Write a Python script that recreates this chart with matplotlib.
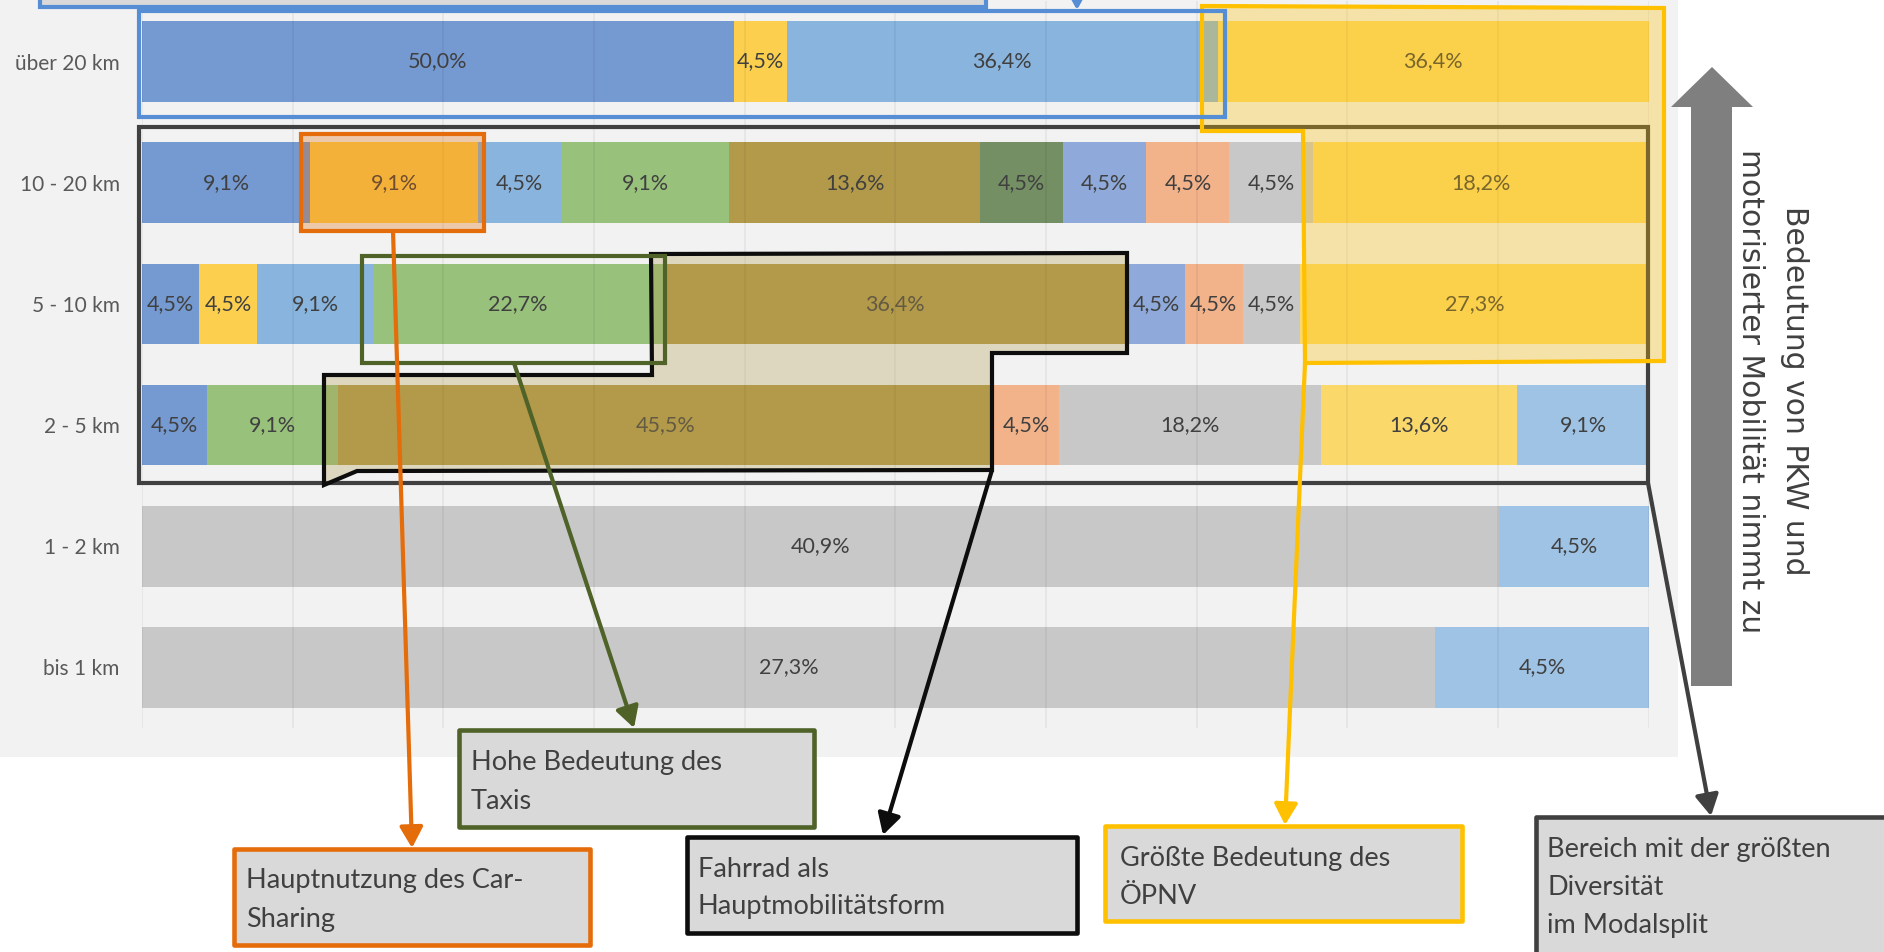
import numpy as np
import matplotlib
matplotlib.use('Agg')
import matplotlib.pyplot as plt
from matplotlib.patches import Rectangle, Polygon

# ---------------- data ----------------
categories = ['bis 1 km', '1 - 2 km', '2 - 5 km', '5 - 10 km', '10 - 20 km', 'über 20 km']
s1_blue = [0, 0, 4.5, 4.5, 9.1, 50.0]
s2_yellow = [0, 0, 0, 4.5, 9.1, 4.5]
s3_lightblue = [0, 0, 0, 9.1, 4.5, 36.4]
s4_green = [0, 0, 9.1, 22.7, 9.1, 0]
s5_olive = [0, 0, 45.5, 36.4, 13.6, 0]
s6_darkgreen = [0, 0, 0, 0, 4.5, 0]
s7_periwinkle = [0, 0, 0, 4.5, 4.5, 0]
s8_salmon = [0, 0, 4.5, 4.5, 4.5, 0]
s9_gray = [27.3, 40.9, 18.2, 4.5, 4.5, 0]
s10_oepnv = [0, 0, 13.6, 27.3, 18.2, 36.4]
s11_lightblue2 = [4.5, 4.5, 9.1, 0, 0, 0]

series = [s1_blue, s2_yellow, s3_lightblue, s4_green, s5_olive, s6_darkgreen,
          s7_periwinkle, s8_salmon, s9_gray, s10_oepnv, s11_lightblue2]
colors = ['#7599D1', '#FCD04E', '#88B4DE', '#98C17B', '#B39A4A', '#748F63',
          '#8FAADA', '#F2B28A', '#C8C8C8', '#FAD86A', '#9FC3E4']

W, H = 1884, 952
fig = plt.figure(figsize=(W / 100, H / 100), dpi=100)
fig.patch.set_facecolor('white')

# background panel
bg = fig.add_axes([0, 0, 1, 1])
bg.set_xlim(0, W); bg.set_ylim(H, 0); bg.axis('off')
bg.add_patch(Rectangle((0, 0), 1678, 757, facecolor='#F2F2F2', edgecolor='none'))

# main axes (pixel layout)
x0, x1, ytop, ybot = 142, 1648.6, 1, 728
ax = fig.add_axes([x0 / W, (H - ybot) / H, (x1 - x0) / W, (ybot - ytop) / H])
ax.set_facecolor('none')
ax.set_xlim(0, 100)
ax.set_ylim(-0.5, 5.5)

data = np.array(series, dtype=float)
totals = data.sum(axis=0)
share = data / totals * 100
ypos = np.arange(len(categories))
left = np.zeros(len(categories))
label_font = 'Lato'
for vals, sh, c in zip(data, share, colors):
    ax.barh(ypos, sh, left=left, height=0.665, color=c, linewidth=0, zorder=1)
    for yi, (v, s, l) in enumerate(zip(vals, sh, left)):
        if v > 0:
            ax.text(l + s / 2, yi, f"{v:.1f}".replace('.', ',') + '%',
                    ha='center', va='center', fontsize=15.5, color='#404040',
                    family=label_font, zorder=3)
    left = left + sh

ax.set_xticks(np.arange(0, 101, 10))
ax.set_xticklabels([])
ax.set_yticks(ypos)
ax.set_yticklabels(categories, fontsize=15, color='#595959', family=label_font)
ax.tick_params(axis='both', length=0)
ax.tick_params(axis='y', pad=16)
ax.set_axisbelow('line')
ax.grid(axis='x', color='black', alpha=0.055, linewidth=1.2)
for sp in ax.spines.values():
    sp.set_visible(False)

# ---------------- overlay annotations (pixel coords) ----------------
ov = fig.add_axes([0, 0, 1, 1])
ov.set_facecolor('none')
ov.set_xlim(0, W); ov.set_ylim(H, 0); ov.axis('off')

BLUE, ORANGE, GREEN, BLACK, YEL, DARK = '#558ED5', '#E46C0A', '#4F6228', '#0D0D0D', '#FFC000', '#404040'
LW = 3

# diversity rectangle
ov.add_patch(Rectangle((139, 127), 1509, 356, fill=False, edgecolor=DARK, lw=LW, zorder=1, joinstyle='miter'))
# bicycle polygon
ov.add_patch(Polygon([(651, 254), (1127, 253), (1127, 353), (992, 353), (992, 470),
                      (357, 471), (324, 485), (324, 375), (652, 375)], closed=True,
                     facecolor=(0.70, 0.60, 0.29, 0.3), edgecolor=BLACK, lw=LW, zorder=2))
# OePNV polygon
ov.add_patch(Polygon([(1202, 6), (1664, 8), (1664, 361), (1305, 363), (1303, 131), (1202, 131)],
                     closed=True, facecolor=(1.0, 0.75, 0.0, 0.3), edgecolor=YEL, lw=LW, zorder=3))
# blue box around top row
ov.add_patch(Rectangle((139, 11), 1086, 106, fill=False, edgecolor=BLUE, lw=LW, zorder=4))
# cropped blue box at top
ov.add_patch(Rectangle((40, -60), 946, 67, facecolor='#D9D9D9', edgecolor=BLUE, lw=LW, zorder=4))
# orange box (car sharing)
ov.add_patch(Rectangle((301, 134), 183, 97, facecolor=(0.894, 0.424, 0.039, 0.3),
                       edgecolor=ORANGE, lw=LW, zorder=4))
# green box (taxi)
ov.add_patch(Rectangle((362, 256), 303, 107, fill=False, edgecolor=GREEN, lw=LW, zorder=4))

# big grey arrow
ov.add_patch(Polygon([(1712, 67), (1753, 107), (1732, 107), (1732, 686), (1691, 686),
                      (1691, 107), (1671, 107)], closed=True, facecolor='#7F7F7F',
                     edgecolor='none', zorder=4))
ov.text(1794, 391, 'Bedeutung von PKW und', rotation=270, ha='center', va='center',
        fontsize=21.5, color='#404040', family='DejaVu Sans', zorder=7)
ov.text(1751, 391, 'motorisierter Mobilität nimmt zu', rotation=270, ha='center', va='center',
        fontsize=21.5, color='#404040', family='DejaVu Sans', zorder=7)


def connector(start, end, color):
    ov.annotate('', xy=end, xytext=start, zorder=5,
                arrowprops=dict(arrowstyle='-|>,head_length=0.9,head_width=0.5',
                                color=color, lw=3.0, shrinkA=0, shrinkB=0,
                                mutation_scale=14))


connector((1077, -30), (1077, 10), BLUE)
connector((393, 231), (412, 848), ORANGE)
connector((514, 363), (634, 728), GREEN)
connector((992, 470), (883, 835), BLACK)
connector((1305, 363), (1285, 825), YEL)
connector((1648, 483), (1711, 816), DARK)


def box(x, y, w, h, color, lines, tx, baselines):
    ov.add_patch(Rectangle((x, y), w, h, facecolor='#D9D9D9', edgecolor=color, lw=LW + 0.3,
                           zorder=6, joinstyle='round'))
    for t, b in zip(lines, baselines):
        ov.text(tx, b, t, ha='left', va='baseline', fontsize=19.5, color='#404040',
                family=label_font, zorder=7)


box(234, 849, 356, 96, ORANGE, ['Hauptnutzung des Car-', 'Sharing'], 246, [888, 927])
box(459, 730, 355, 97, GREEN, ['Hohe Bedeutung des', 'Taxis'], 471, [770, 809])
box(687, 837, 390, 96, BLACK, ['Fahrrad als', 'Hauptmobilitätsform'], 698, [877, 914])
box(1105, 826, 357, 95, YEL, ['Größte Bedeutung des', 'ÖPNV'], 1120, [866, 904])
box(1536, 817, 400, 140, DARK, ['Bereich mit der größten', 'Diversität', 'im Modalsplit'],
    1547, [857, 895, 933])

fig.savefig('out.png', dpi=100, facecolor='white')
